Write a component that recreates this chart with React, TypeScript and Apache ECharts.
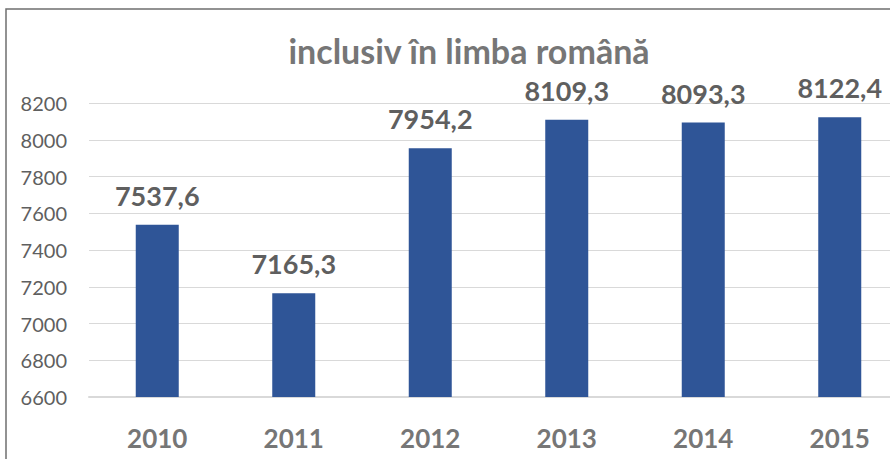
import React, { useEffect, useRef } from "react";
import * as echarts from "echarts";

const categories = ["2010", "2011", "2012", "2013", "2014", "2015"];
const values = [7537.6, 7165.3, 7954.2, 8109.3, 8093.3, 8122.4];
const titleText = "inclusiv în limba română";
const yMin = 6600;
const yMax = 8200;
const yStep = 200;

export default function App() {
  const ref = useRef<HTMLDivElement>(null);
  useEffect(() => {
    document.body.style.margin = "0";
    const chart = echarts.init(ref.current!, null, { renderer: "svg" });
    chart.setOption({
      animation: false,
      backgroundColor: "#ffffff",
      title: {
        text: titleText,
        left: 464,
        textAlign: "center",
        top: 28,
        textStyle: {
          fontFamily: "Lato",
          fontWeight: "bold",
          fontSize: 34,
          color: "#767676",
        },
      },
      graphic: [
        {
          type: "rect",
          shape: { x: 6, y: 9, width: 1000, height: 1000 },
          style: { fill: "none", stroke: "#6f6f6f", lineWidth: 1.5 },
          silent: true,
        },
      ],
      grid: {
        left: 89,
        top: 103,
        width: 819,
        height: 294,
        containLabel: false,
        outerBoundsMode: "none",
      },
      xAxis: {
        type: "category",
        data: categories,
        axisLine: { show: true, lineStyle: { color: "#d9d9d9", width: 2 } },
        axisTick: { show: false },
        axisLabel: {
          margin: 28,
          fontFamily: "Lato",
          fontWeight: "bold",
          fontSize: 26,
          color: "#767676",
        },
      },
      yAxis: {
        type: "value",
        min: yMin,
        max: yMax,
        interval: yStep,
        axisLine: { show: false },
        axisTick: { show: false },
        splitLine: { lineStyle: { color: "#d9d9d9", width: 1 } },
        axisLabel: {
          margin: 22,
          fontFamily: "Lato",
          fontSize: 20,
          color: "#5f5f5f",
          formatter: (v: number) => String(v),
        },
      },
      series: [
        {
          type: "bar",
          data: values,
          barWidth: 43,
          itemStyle: { color: "#2f5597" },
          label: {
            show: true,
            position: "top",
            distance: 16,
            fontFamily: "Lato",
            fontWeight: "bold",
            fontSize: 27,
            color: "#5f5f5f",
            formatter: (p: any) => String(p.value).replace(".", ","),
          },
        },
      ],
    });
    return () => chart.dispose();
  }, []);
  return <div ref={ref} style={{ width: 890, height: 459 }} />;
}
